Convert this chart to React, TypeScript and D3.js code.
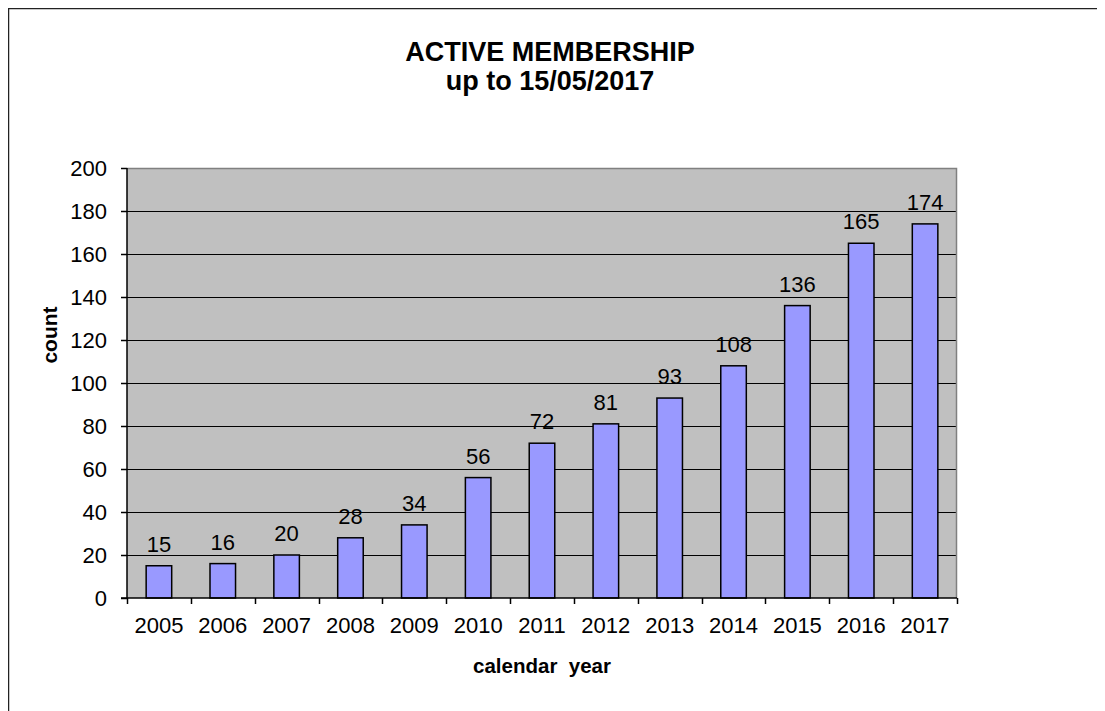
import { useEffect, useRef } from "react";
import * as d3 from "d3";

const years = ["2005", "2006", "2007", "2008", "2009", "2010", "2011", "2012", "2013", "2014", "2015", "2016", "2017"];
const counts = [15, 16, 20, 28, 34, 56, 72, 81, 93, 108, 136, 165, 174];
const yTicks = [0, 20, 40, 60, 80, 100, 120, 140, 160, 180, 200];

export default function App() {
  const ref = useRef<SVGSVGElement>(null);

  useEffect(() => {
    if (!ref.current) return;
    const svg = d3.select(ref.current);
    svg.selectAll("*").remove();

    const width = 1097;
    const height = 703;
    const margin = { top: 160, right: 148, bottom: 113, left: 119 };
    const font = "Arial, 'Liberation Sans', sans-serif";

    const x = d3
      .scaleBand()
      .domain(years)
      .range([margin.left, width - margin.right])
      .padding(0);

    const y = d3
      .scaleLinear()
      .domain([0, 200])
      .range([height - margin.bottom, margin.top]);

    const barW = x.step() * 0.4;

    // outer frame (runs off the page on right/bottom)
    svg
      .append("rect")
      .attr("x", 0.5)
      .attr("y", 0.5)
      .attr("width", 1300)
      .attr("height", 900)
      .attr("fill", "#fff")
      .attr("stroke", "#222")
      .attr("stroke-width", 1.5);

    // plot background
    svg
      .append("rect")
      .attr("x", margin.left)
      .attr("y", margin.top)
      .attr("width", width - margin.left - margin.right)
      .attr("height", height - margin.top - margin.bottom)
      .attr("fill", "#c0c0c0");

    // gridlines
    svg
      .append("g")
      .selectAll("line")
      .data(yTicks.filter((d) => d > 0 && d < 200))
      .join("line")
      .attr("x1", margin.left)
      .attr("x2", width - margin.right)
      .attr("y1", (d) => Math.round(y(d)) + 0.5)
      .attr("y2", (d) => Math.round(y(d)) + 0.5)
      .attr("stroke", "#000")
      .attr("stroke-width", 1.2);

    // plot border top/right
    svg
      .append("path")
      .attr(
        "d",
        `M${margin.left},${margin.top + 0.5}H${width - margin.right - 0.5}V${height - margin.bottom}`
      )
      .attr("fill", "none")
      .attr("stroke", "#808080")
      .attr("stroke-width", 1.5);

    // bars
    svg
      .append("g")
      .selectAll("rect")
      .data(counts)
      .join("rect")
      .attr("x", (d, i) => (x(years[i]) || 0) + (x.step() - barW) / 2)
      .attr("y", (d) => y(d))
      .attr("width", barW)
      .attr("height", (d) => y(0) - y(d))
      .attr("fill", "#9999ff")
      .attr("stroke", "#000")
      .attr("stroke-width", 1.5);

    // value labels
    svg
      .append("g")
      .selectAll("text")
      .data(counts)
      .join("text")
      .attr("x", (d, i) => (x(years[i]) || 0) + x.step() / 2)
      .attr("y", (d) => y(d) - 14)
      .attr("text-anchor", "middle")
      .style("font-family", font)
      .style("font-size", "22px")
      .text((d) => d);

    // y axis
    const yAxis = svg.append("g");
    yAxis
      .append("line")
      .attr("x1", margin.left)
      .attr("x2", margin.left)
      .attr("y1", margin.top)
      .attr("y2", y(0))
      .attr("stroke", "#000")
      .attr("stroke-width", 1.5);
    yAxis
      .selectAll("line.tick")
      .data(yTicks)
      .join("line")
      .attr("class", "tick")
      .attr("x1", margin.left - 6)
      .attr("x2", margin.left)
      .attr("y1", (d) => Math.round(y(d)) + 0.5)
      .attr("y2", (d) => Math.round(y(d)) + 0.5)
      .attr("stroke", "#000")
      .attr("stroke-width", 1.5);
    yAxis
      .selectAll("text")
      .data(yTicks)
      .join("text")
      .attr("x", margin.left - 20)
      .attr("y", (d) => y(d) + 8)
      .attr("text-anchor", "end")
      .style("font-family", font)
      .style("font-size", "22px")
      .text((d) => d);

    // x axis
    const xAxis = svg.append("g");
    xAxis
      .append("line")
      .attr("x1", margin.left - 6)
      .attr("x2", width - margin.right)
      .attr("y1", y(0))
      .attr("y2", y(0))
      .attr("stroke", "#000")
      .attr("stroke-width", 1.5);
    xAxis
      .selectAll("line.tick")
      .data([...years, "end"])
      .join("line")
      .attr("class", "tick")
      .attr("x1", (d, i) => Math.round(margin.left + i * x.step()) + 0.5)
      .attr("x2", (d, i) => Math.round(margin.left + i * x.step()) + 0.5)
      .attr("y1", y(0))
      .attr("y2", y(0) + 6)
      .attr("stroke", "#000")
      .attr("stroke-width", 1.5);
    xAxis
      .selectAll("text")
      .data(years)
      .join("text")
      .attr("x", (d) => (x(d) || 0) + x.step() / 2)
      .attr("y", y(0) + 35)
      .attr("text-anchor", "middle")
      .style("font-family", font)
      .style("font-size", "22px")
      .text((d) => d);

    // axis titles
    svg
      .append("text")
      .attr("x", (margin.left + width - margin.right) / 2)
      .attr("y", 665)
      .attr("text-anchor", "middle")
      .style("font-family", font)
      .style("font-size", "20.5px")
      .style("font-weight", "bold")
      .style("white-space", "pre")
      .text("calendar  year");

    svg
      .append("text")
      .attr("transform", "translate(49,327) rotate(-90)")
      .attr("text-anchor", "middle")
      .style("font-family", font)
      .style("font-size", "21px")
      .style("font-weight", "bold")
      .text("count");

    // title
    const title = svg
      .append("text")
      .attr("text-anchor", "middle")
      .style("font-family", font)
      .style("font-size", "27px")
      .style("font-weight", "bold");
    title.append("tspan").attr("x", 542).attr("y", 53).text("ACTIVE MEMBERSHIP");
    title.append("tspan").attr("x", 542).attr("y", 82).text("up to 15/05/2017");
  }, []);

  return (
    <svg
      ref={ref}
      width={1097}
      height={703}
      style={{ display: "block", overflow: "hidden" }}
    ></svg>
  );
}
